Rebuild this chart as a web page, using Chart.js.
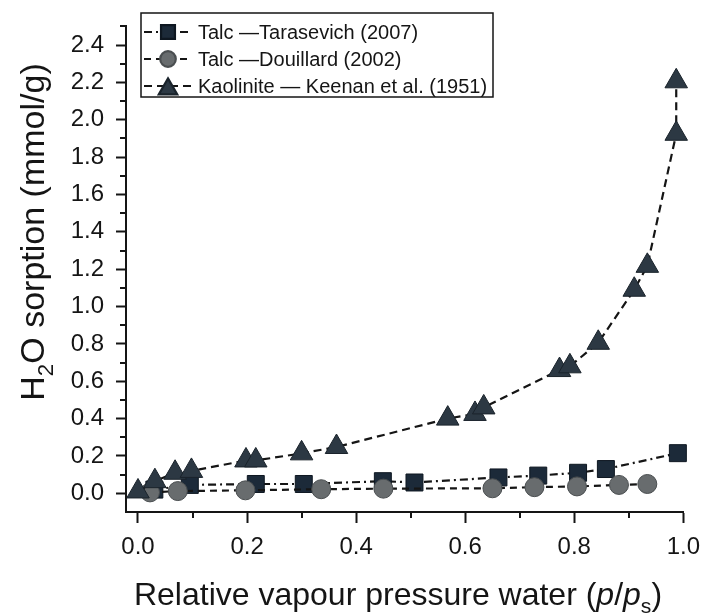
<!DOCTYPE html>
<html>
<head>
<meta charset="utf-8">
<title>Water sorption</title>
<script src="https://cdn.jsdelivr.net/npm/chart.js@4.4.0/dist/chart.umd.min.js"></script>
<style>
  html, body { margin: 0; padding: 0; background: #fff; }
  #wrap { width: 710px; height: 613px; position: relative; }
</style>
</head>
<body>
<div id="wrap"><canvas id="c" width="710" height="613"></canvas></div>
<script>
// ===== Data: relative pressure p/ps vs H2O uptake (mmol/g) =====
const TARASEVICH_X = [0.03, 0.095, 0.216, 0.304, 0.449, 0.507, 0.661, 0.734, 0.807, 0.858, 0.99];
const TARASEVICH_Y = [0.02, 0.045, 0.05, 0.05, 0.065, 0.058, 0.085, 0.095, 0.11, 0.13, 0.215];

const DOUILLARD_X = [0.022, 0.073, 0.197, 0.336, 0.45, 0.65, 0.727, 0.805, 0.882, 0.934];
const DOUILLARD_Y = [0.005, 0.012, 0.016, 0.022, 0.025, 0.027, 0.033, 0.037, 0.045, 0.05];

const KEENAN_X = [0.0, 0.031, 0.068, 0.098, 0.198, 0.216, 0.30, 0.364, 0.568, 0.618, 0.634,
                  0.773, 0.792, 0.844, 0.91, 0.934, 0.987, 0.987];
const KEENAN_Y = [0.01, 0.065, 0.11, 0.12, 0.176, 0.176, 0.214, 0.248, 0.40, 0.425, 0.46,
                  0.66, 0.68, 0.806, 1.09, 1.218, 1.925, 2.206];

const LEGEND_TEXT = ["Talc \u2014Tarasevich (2007)", "Talc \u2014Douillard (2002)", "Kaolinite \u2014 Keenan et al. (1951)"];

const Y_TICKS = [0.0, 0.2, 0.4, 0.6, 0.8, 1.0, 1.2, 1.4, 1.6, 1.8, 2.0, 2.2, 2.4];
const Y_MINOR = [0.1, 0.3, 0.5, 0.7, 0.9, 1.1, 1.3, 1.5, 1.7, 1.9, 2.1, 2.3, 2.5];
const X_TICKS = [0.0, 0.2, 0.4, 0.6, 0.8, 1.0];
const X_MINOR = [0.1, 0.3, 0.5, 0.7, 0.9];

const FONT = "'Liberation Sans', Arial, sans-serif";
const INK = "#151515";

const pts = (xs, ys) => xs.map((x, i) => ({ x, y: ys[i] }));

// ===== Titles, minor ticks and the boxed legend =====
function richWidth(ctx, parts, size) {
  let w = 0;
  for (const p of parts) {
    const fs = p.sub ? size * 0.66 : size;
    ctx.font = `${p.it ? "italic " : ""}${fs}px ${FONT}`;
    w += ctx.measureText(p.t).width;
  }
  return w;
}
function paintRich(ctx, parts, size, x0, y0) {
  let x = x0;
  for (const p of parts) {
    const fs = p.sub ? size * 0.66 : size;
    ctx.font = `${p.it ? "italic " : ""}${fs}px ${FONT}`;
    ctx.fillText(p.t, x, p.sub ? y0 + size * 0.26 : y0);
    x += ctx.measureText(p.t).width;
  }
}

const decor = {
  id: "decor",
  afterDraw(chart) {
    const { ctx, chartArea: a } = chart;
    const xs = chart.scales.x, ys = chart.scales.y;
    ctx.save();

    // minor ticks
    ctx.strokeStyle = INK;
    ctx.lineWidth = 2;
    ctx.beginPath();
    for (const v of Y_MINOR) {
      const py = Math.round(ys.getPixelForValue(v));
      ctx.moveTo(a.left - 6, py); ctx.lineTo(a.left, py);
    }
    for (const v of X_MINOR) {
      const px = Math.round(xs.getPixelForValue(v));
      ctx.moveTo(px, a.bottom); ctx.lineTo(px, a.bottom + 6);
    }
    ctx.stroke();

    ctx.fillStyle = INK;
    ctx.textBaseline = "alphabetic";

    // x title
    const xt = [{ t: "Relative vapour pressure water (" }, { t: "p", it: true }, { t: "/" },
                { t: "p", it: true }, { t: "s", sub: true }, { t: ")" }];
    const xw = richWidth(ctx, xt, 32);
    paintRich(ctx, xt, 32, 398 - xw / 2, 605);

    // y title, rotated
    const yt = [{ t: "H" }, { t: "2", sub: true }, { t: "O sorption (mmol/g)" }];
    const yw = richWidth(ctx, yt, 34);
    ctx.save();
    ctx.translate(44, 232);
    ctx.rotate(-Math.PI / 2);
    paintRich(ctx, yt, 34, -yw / 2, 0);
    ctx.restore();

    // legend box
    const bx = 141, by = 13, bw = 352, bh = 84;
    ctx.lineWidth = 1.5;
    ctx.strokeRect(bx, by, bw, bh);
    chart.data.datasets.forEach((ds, i) => {
      const cy = 32 + i * 27;
      ctx.save();
      ctx.strokeStyle = ds.borderColor;
      ctx.lineWidth = ds.borderWidth;
      ctx.setLineDash(ds.borderDash);
      ctx.beginPath();
      ctx.moveTo(bx + 3, cy); ctx.lineTo(bx + 50, cy);
      ctx.stroke();
      ctx.setLineDash([]);
      ctx.fillStyle = ds.pointBackgroundColor;
      ctx.strokeStyle = ds.pointBorderColor;
      Chart.helpers.drawPoint(ctx, {
        pointStyle: ds.pointStyle, radius: ds.pointRadius * 0.82, rotation: 0, borderWidth: 1
      }, bx + 27, cy + (ds.pointStyle === "triangle" ? 3 : 0));
      ctx.restore();
      ctx.font = `20px ${FONT}`;
      ctx.fillText(LEGEND_TEXT[i], bx + 57, cy + 7);
    });
    ctx.restore();
  }
};

const dashed = { showLine: true, borderColor: INK, borderWidth: 2.2, clip: false, pointBorderWidth: 1 };

new Chart(document.getElementById("c"), {
  type: "scatter",
  data: {
    datasets: [
      { ...dashed, label: LEGEND_TEXT[0], data: pts(TARASEVICH_X, TARASEVICH_Y), order: 2,
        borderDash: [8, 4, 2, 4], pointStyle: "rect", pointRadius: 12,
        pointBackgroundColor: "#1c2a39", pointBorderColor: "#0e1721" },
      { ...dashed, label: LEGEND_TEXT[1], data: pts(DOUILLARD_X, DOUILLARD_Y), order: 1,
        borderDash: [7, 5], pointStyle: "circle", pointRadius: 9.5,
        pointBackgroundColor: "#686c6e", pointBorderColor: "#4a4e50" },
      { ...dashed, label: LEGEND_TEXT[2], data: pts(KEENAN_X, KEENAN_Y), order: 0,
        borderDash: [8, 5], pointStyle: "triangle", pointRadius: 13,
        pointBackgroundColor: "#2c3843", pointBorderColor: "#1a232b" }
    ]
  },
  options: {
    responsive: false,
    animation: false,
    layout: { padding: { left: 0, right: 22, top: 22, bottom: 0 } },
    plugins: { legend: { display: false }, tooltip: { enabled: false } },
    scales: {
      x: {
        type: "linear", min: -0.022, max: 1.0,
        afterBuildTicks: s => { s.ticks = X_TICKS.map(v => ({ value: v })); },
        afterFit: s => { s.height = 101; },
        ticks: { callback: v => v.toFixed(1), font: { family: FONT, size: 24 }, color: INK, padding: 10, maxRotation: 0 },
        grid: { drawOnChartArea: false, drawTicks: true, tickLength: 11, tickWidth: 2, tickColor: INK },
        border: { display: true, color: INK, width: 2 }
      },
      y: {
        type: "linear", min: -0.1, max: 2.5,
        afterBuildTicks: s => { s.ticks = Y_TICKS.map(v => ({ value: v })); },
        afterFit: s => { s.width = 126; },
        ticks: { callback: v => v.toFixed(1), font: { family: FONT, size: 24 }, color: INK, padding: 12 },
        grid: { drawOnChartArea: false, drawTicks: true, tickLength: 10, tickWidth: 2, tickColor: INK },
        border: { display: true, color: INK, width: 2 }
      }
    }
  },
  plugins: [decor]
});
</script>
</body>
</html>
